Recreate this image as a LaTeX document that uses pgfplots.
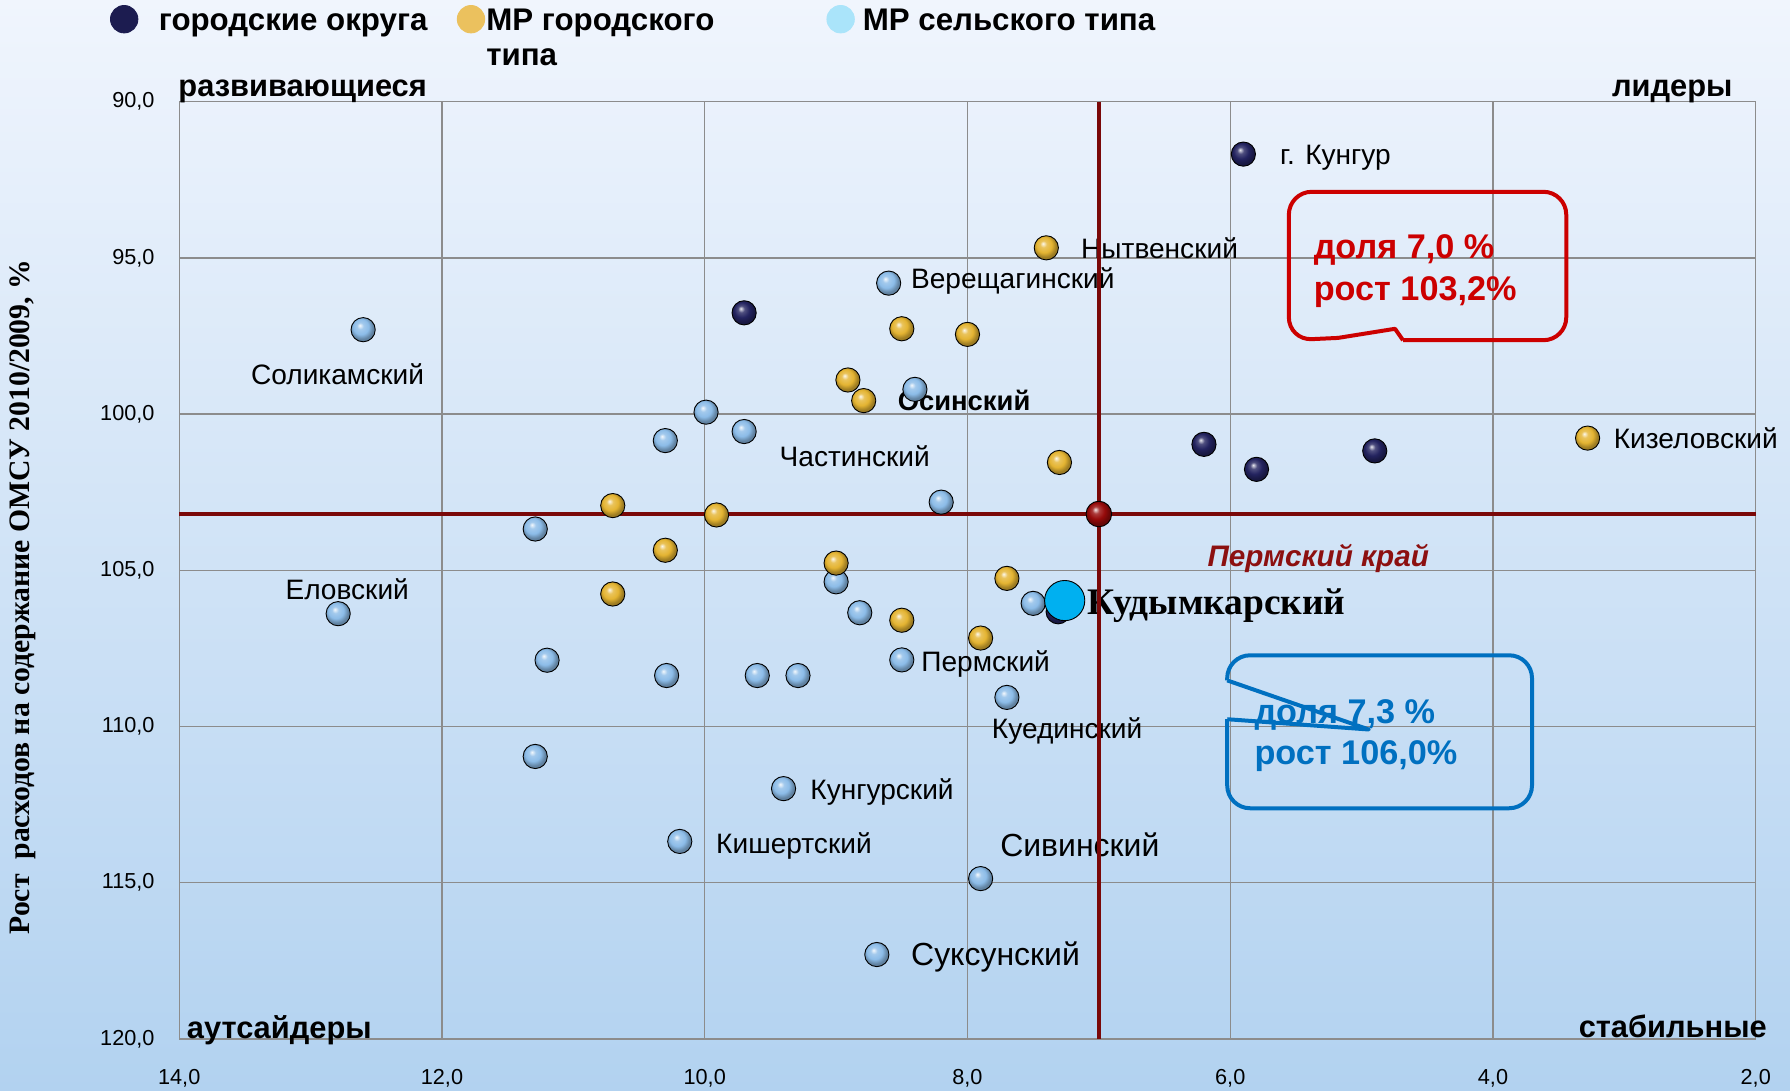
\documentclass[border=0pt]{standalone}
\usepackage{pgfplots}
\pgfplotsset{compat=1.18}
\usepackage{fontspec}
\setmainfont{Liberation Sans}
\newfontfamily\timesf{Liberation Serif}
\definecolor{bgtop}{RGB}{240,245,253}
\definecolor{bgbot}{RGB}{178,210,240}
\definecolor{gridc}{RGB}{140,140,140}
\definecolor{redline}{RGB}{122,8,8}
\definecolor{navyb}{RGB}{35,35,95}
\definecolor{goldb}{RGB}{228,180,50}
\definecolor{lblueb}{RGB}{140,188,232}
\definecolor{redb}{RGB}{150,10,10}
\definecolor{legnavy}{RGB}{28,28,80}
\definecolor{leggold}{RGB}{235,193,94}
\definecolor{legcyan}{RGB}{170,228,250}
\definecolor{kcyan}{RGB}{0,176,240}
\definecolor{calred}{RGB}{204,0,0}
\definecolor{calblue}{RGB}{0,112,192}
\definecolor{permred}{RGB}{140,16,16}
\makeatletter
\pgfdeclareradialshading[tikz@ball]{ball}{\pgfqpoint{-7bp}{9bp}}{%
 color(0bp)=(tikz@ball!10!white);
 color(7bp)=(tikz@ball!80!white);
 color(16bp)=(tikz@ball);
 color(24bp)=(tikz@ball!70!black);
 color(50bp)=(tikz@ball!50!black)}
\makeatother
\pgfplotstableread{
x y
12.60 97.30
8.60 95.81
8.40 99.21
9.99 99.94
9.70 100.56
10.30 100.85
8.20 102.82
11.29 103.68
12.79 106.39
9.00 105.37
8.82 106.36
7.50 106.06
11.20 107.88
10.29 108.37
9.60 108.37
9.29 108.37
8.50 107.87
7.70 109.07
11.29 110.96
9.40 111.99
10.19 113.68
7.90 114.87
8.69 117.30
}\rural
\pgfplotstableread{
x y
7.40 94.68
8.50 97.27
8.00 97.45
8.91 98.91
8.79 99.57
3.28 100.77
7.30 101.55
10.70 102.93
9.91 103.23
10.30 104.36
9.00 104.77
10.70 105.76
7.70 105.26
8.50 106.60
7.90 107.17
}\urbanmr
\pgfplotstableread{
x y
5.90 91.68
9.70 96.76
6.20 100.97
5.80 101.77
4.90 101.18
7.31 106.33
}\city
\begin{document}
\begin{tikzpicture}[x=0.5pt,y=-0.5pt]
\shade[use as bounding box, top color=bgtop, bottom color=bgbot] (0,0) rectangle (1568,955);
\begin{axis}[
  at={(78.5pt,-455pt)}, anchor=south west,
  scale only axis, width=690.5pt, height=410.5pt,
  xmin=2, xmax=14, ymin=90, ymax=120,
  x dir=reverse, y dir=reverse, clip=false,
  xtick={2,4,...,14}, ytick={90,95,...,120},
  grid=major, major grid style={gridc, line width=0.6pt},
  axis line style={gridc, line width=0.6pt},
  major tick length=0pt,
  /pgf/number format/fixed, /pgf/number format/fixed zerofill,
  /pgf/number format/precision=1, /pgf/number format/use comma,
  /pgf/number format/assume math mode=true,
  ticklabel style={font=\fontsize{9.5}{11}\selectfont},
  yticklabel style={xshift=-7.3pt},
  xticklabel style={yshift=-9.7pt},
  legend columns=3, legend cell align=left,
  legend style={at={(-0.04417,1.10353)}, anchor=north west, draw=none, fill=none,
    inner sep=0pt, column sep=0pt,
    nodes={inner sep=0pt, text height=10pt, text depth=3pt, font=\bfseries\fontsize{13.7}{15.75}\selectfont}},
]
\addlegendimage{legend image code/.code={\fill[legnavy] (6pt,1.5pt) circle (6pt);}}
\addlegendentry{\makebox[139.5pt][l]{\hspace{9pt}городские округа}}
\addlegendimage{legend image code/.code={\fill[leggold] (6pt,1.5pt) circle (6pt);}}
\addlegendentry{\makebox[149.5pt][l]{\hspace{0.5pt}\begin{tabular}[t]{@{}l@{}}МР городского\\[-0.5pt]типа\end{tabular}}}
\addlegendimage{legend image code/.code={\fill[legcyan] (6pt,1.5pt) circle (6pt);}}
\addlegendentry{\hspace{3.5pt}МР сельского типа}

% labels
\begin{scope}[every node/.style={inner sep=0pt, anchor=base west, font=\fontsize{12.3}{14}\selectfont}]
\node at (axis cs:5.623,92.028) {г. Кунгур};
\node at (axis cs:7.138,95.017) {Нытвенский};
\node at (axis cs:8.433,95.978) {Верещагинский};
\node at (axis cs:13.456,99.062) {Соликамский};
\node[font=\bfseries\fontsize{12}{14}\selectfont] at (axis cs:8.534,99.873) {Осинский};
\node at (axis cs:9.433,101.686) {Частинский};
\node at (axis cs:3.084,101.097) {Кизеловский};
\node at (axis cs:13.194,105.928) {Еловский};
\node[font=\timesf\bfseries\fontsize{16.4}{18}\selectfont] at (axis cs:7.091,106.425) {Кудымкарский};
\node at (axis cs:8.354,108.234) {Пермский};
\node at (axis cs:7.817,110.397) {Куединский};
\node at (axis cs:9.199,112.326) {Кунгурский};
\node at (axis cs:9.916,114.069) {Кишертский};
\node[font=\fontsize{14}{16}\selectfont] at (axis cs:7.754,114.168) {Сивинский};
\node[font=\fontsize{14}{16}\selectfont] at (axis cs:8.432,117.661) {Суксунский};
\node[font=\bfseries\itshape\fontsize{13}{14}\selectfont, text=permred] at (axis cs:6.176,104.887) {Пермский край};
\end{scope}

\addplot[redline, line width=2pt, forget plot] coordinates {(7,90) (7,120)};
\addplot[redline, line width=2pt, forget plot] coordinates {(14,103.2) (2,103.2)};

\addplot[only marks, mark=ball, mark size=5.3pt, mark options={ball color=lblueb, draw=none}, forget plot] table {\rural};
\addplot[only marks, mark=ball, mark size=5.3pt, mark options={ball color=goldb, draw=none}, forget plot] table {\urbanmr};
\addplot[only marks, mark=ball, mark size=5.3pt, mark options={ball color=navyb, draw=none}, forget plot] table {\city};
\addplot[only marks, mark=*, mark size=8.8pt, mark options={fill=kcyan, draw=none}, forget plot] coordinates {(7.26,105.97)};
\addplot[only marks, mark=ball, mark size=5.6pt, mark options={ball color=redb, draw=none}, forget plot] coordinates {(7.0,103.2)};
\end{axis}

% quadrant labels
\begin{scope}[every node/.style={inner sep=0pt, font=\bfseries\fontsize{13.5}{15}\selectfont}]
\node[anchor=base west] at (155.9,84.7) {развивающиеся};
\node[anchor=base east] at (1518,84.7) {лидеры};
\node[anchor=base west] at (163.3,909.5) {аутсайдеры};
\node[anchor=base east] at (1548,908.6) {стабильные};
\end{scope}

% y axis label
\node[rotate=90, inner sep=0pt, font=\timesf\bfseries\fontsize{13}{15}\selectfont] at (20,523) {Рост\ \ расходов на содержание ОМСУ 2010/2009, \%};

% callouts
\draw[calred, line width=1.75pt, rounded corners=10pt] (1229,298) -- (1372,298) -- (1372,168) -- (1129,168) -- (1129,298) -- (1172,296);
\draw[calred, line width=1.75pt, line join=round] (1172,296) -- (1222,288) -- (1229,298);
\begin{scope}[every node/.style={inner sep=0pt, anchor=base west, font=\bfseries\fontsize{15}{16}\selectfont}]
\node[text=calred] at (1150.4,226.3) {доля 7,0 \%};
\node[text=calred] at (1150.4,262.8) {рост 103,2\%};
\node[text=calblue] at (1098.5,633.5) {доля 7,3 \%};
\node[text=calblue] at (1098.5,669.4) {рост 106,0\%};
\end{scope}
\draw[calblue, line width=1.75pt, rounded corners=10pt] (1075,596) -- (1075,574) -- (1342,574) -- (1342,708) -- (1075,708) -- (1075,630);
\draw[calblue, line width=1.75pt, line join=round] (1075,630) -- (1199,639) -- (1075,596);
\end{tikzpicture}
\end{document}
